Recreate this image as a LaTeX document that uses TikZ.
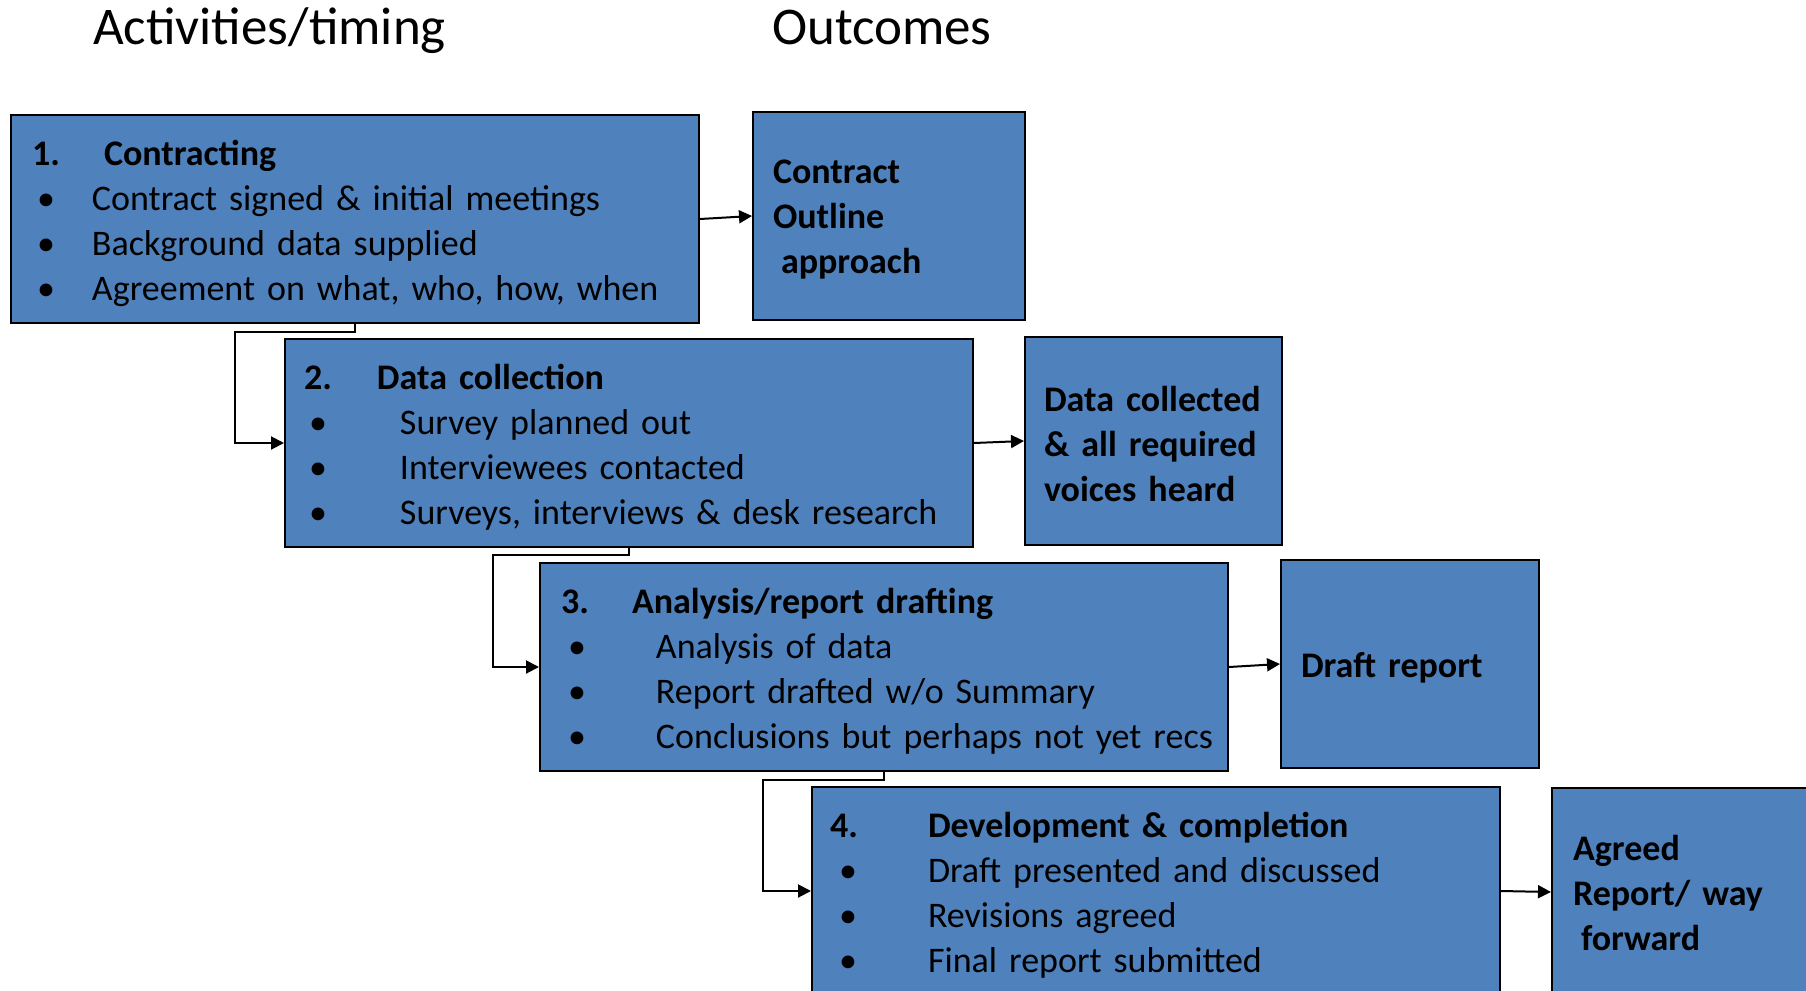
\documentclass[tikz,border=0pt]{standalone}
\usepackage{fontspec}
\setmainfont{Carlito}
\usetikzlibrary{arrows.meta}

\newcommand{\stephead}[4]{\rule{0pt}{34pt}\hspace*{#1pt}\makebox[#2pt][l]{\textbf{#3}}\textbf{#4}}
\newcommand{\stepitem}[3]{\hspace*{#1pt}\makebox[#2pt][l]{\textbullet}#3}

\begin{document}
\begin{tikzpicture}[x=1pt, y=-1pt]
  % Define colors
  \definecolor{boxblue}{RGB}{79,129,189}

  \tikzset{
    stagebox/.style={rectangle, draw=black, line width=2pt, fill=boxblue, anchor=north west,
      text width=688pt, minimum height=208pt, inner xsep=0pt, inner ysep=0pt, align=left,
      font=\fontsize{36}{45}\selectfont},
    outbox/.style={rectangle, draw=black, line width=2pt, fill=boxblue, anchor=north west,
      minimum height=208pt, inner xsep=0pt, inner ysep=0pt, align=left,
      font=\bfseries\fontsize{36}{45}\selectfont},
    flow/.style={-{Triangle[length=13pt, width=13pt]}, line width=2pt}
  }

  \useasboundingbox (0,0) rectangle (1806,990);
  \clip (0,0) rectangle (1806,990);

  % Column titles
  \node[anchor=base west, inner sep=0pt, font=\fontsize{53}{62}\selectfont] (acttitle) at (93,45) {Activities/timing};
  \node[anchor=base west, inner sep=0pt, font=\fontsize{53}{62}\selectfont] (outtitle) at (772,45) {Outcomes};

  % Activity boxes
  \node[stagebox] (step1) at (10,114) {%
    \stephead{21}{72}{1.}{Contracting}\\
    \stepitem{26}{55}{Contract signed \& initial meetings}\\
    \stepitem{26}{55}{Background data supplied}\\
    \stepitem{26}{55}{Agreement on what, who, how, when}};
  \node[stagebox] (step2) at (284,338) {%
    \stephead{19}{73}{2.}{Data collection}\\
    \stepitem{24}{91}{Survey planned out}\\
    \stepitem{24}{91}{Interviewees contacted}\\
    \stepitem{24}{91}{Surveys, interviews \& desk research}};
  \node[stagebox] (step3) at (539,562) {%
    \stephead{21}{71}{3.}{Analysis/report drafting}\\
    \stepitem{28}{88}{Analysis of data}\\
    \stepitem{28}{88}{Report drafted w/o Summary}\\
    \stepitem{28}{88}{Conclusions but perhaps not yet recs}};
  \node[stagebox] (step4) at (811,786) {%
    \stephead{18}{98}{4.}{Development \& completion}\\
    \stepitem{27}{89}{Draft presented and discussed}\\
    \stepitem{27}{89}{Revisions agreed}\\
    \stepitem{27}{89}{Final report submitted}};

  % Outcome boxes
  \node[outbox, text width=272pt] (out1) at (752,111) {%
    \rule{0pt}{30pt}\hspace*{20pt}Contract\\ \hspace*{20pt}Outline\\ \hspace*{28pt}approach};
  \node[outbox, text width=257pt] (out2) at (1024,336) {%
    \rule{0pt}{31pt}\hspace*{19pt}Data collected\\ \hspace*{19pt}\& all required\\ \hspace*{19pt}voices heard};
  \node[outbox, text width=258pt] (out3) at (1280,559) {%
    \rule{0pt}{32pt}\hspace*{20pt}Draft report};
  \node[outbox, text width=258pt] (out4) at (1551,787) {%
    \rule{0pt}{28pt}\hspace*{21pt}Agreed\\ \hspace*{21pt}Report/ way\\ \hspace*{29pt}forward};

  % Arrows from activities to outcomes
  \foreach \i in {1,...,4} {
    \draw[flow] (step\i.east) -- (out\i.west);
  }

  % Arrows from one activity to the next
  \draw[flow] (step1.south) |- ++(-120,8) |- (step2.west);
  \draw[flow] (step2.south) |- ++(-136,7) |- (step3.west);
  \draw[flow] (step3.south) |- ++(-121,8) |- (step4.west);

\end{tikzpicture}
\end{document}
